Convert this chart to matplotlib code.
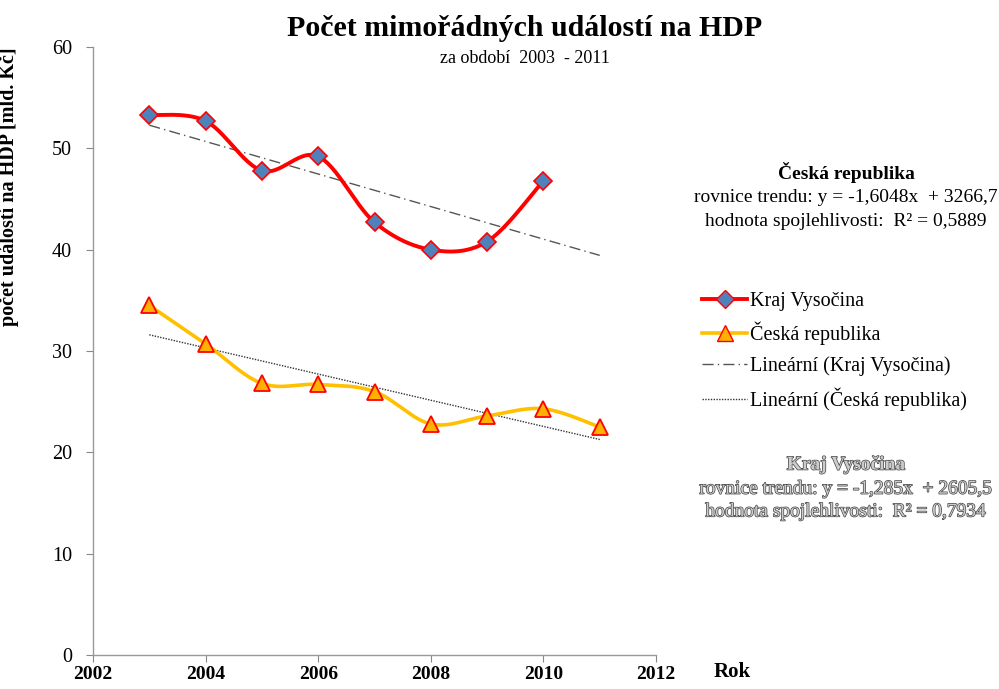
import numpy as np
import matplotlib.pyplot as plt
import matplotlib.patheffects as pe
from matplotlib.lines import Line2D

plt.rcParams['font.family'] = ['Liberation Serif', 'DejaVu Serif']

# data
years_kv = [2003, 2004, 2005, 2006, 2007, 2008, 2009, 2010]
kraj_vysocina = [53.3, 52.7, 47.8, 49.2, 42.7, 40.0, 40.8, 46.8]
years_cr = [2003, 2004, 2005, 2006, 2007, 2008, 2009, 2010, 2011]
ceska_republika = [34.5, 30.7, 26.8, 26.7, 26.0, 22.8, 23.6, 24.3, 22.5]
trend_years = [2003, 2011]


def smooth(x, y, n=30):
    # Excel-style smoothed line (Catmull-Rom via Bezier segments)
    x = np.asarray(x, float)
    y = np.asarray(y, float)
    p = np.column_stack([x, y])
    pts = np.vstack([p[0], p, p[-1]])
    out = []
    t = np.linspace(0, 1, n)[:, None]
    for i in range(1, len(pts) - 2):
        p0, p1, p2, p3 = pts[i - 1], pts[i], pts[i + 1], pts[i + 2]
        c1 = p1 + (p2 - p0) / 6
        c2 = p2 - (p3 - p1) / 6
        seg = ((1 - t) ** 3) * p1 + 3 * ((1 - t) ** 2) * t * c1 + 3 * (1 - t) * t ** 2 * c2 + t ** 3 * p2
        out.append(seg if i == 1 else seg[1:])
    out = np.vstack(out)
    return out[:, 0], out[:, 1]


fig = plt.figure(figsize=(9.99, 6.89), dpi=100)
ax = fig.add_axes([0.0931, 0.0493, 0.5636, 0.8825])

red = '#FF0000'
yellow = '#FFC000'

# trend lines
tx = np.array(trend_years, float)
k1 = np.polyfit(years_kv, kraj_vysocina, 1)
k2 = np.polyfit(years_cr, ceska_republika, 1)
ax.plot(tx, np.polyval(k1, tx), color='#555555', lw=1.0, ls=(0, (8, 3, 1, 3)), zorder=2)
ax.plot(tx, np.polyval(k2, tx), color='#333333', lw=1.0, ls=(0, (1, 1)), zorder=2)

sx, sy = smooth(years_kv, kraj_vysocina)
ax.plot(sx, sy, color=red, lw=2.8, zorder=3, solid_capstyle='round')
ax.plot(years_kv, kraj_vysocina, ls='none', marker='D', ms=9, mfc='#4F81BD', mec=red, mew=1.2, zorder=4)

sx, sy = smooth(years_cr, ceska_republika)
ax.plot(sx, sy, color=yellow, lw=2.6, zorder=3, solid_capstyle='round')
ax.plot(years_cr, ceska_republika, ls='none', marker='^', ms=11, mfc='#FFB000', mec=red, mew=1.3, zorder=4)

ax.set_xlim(2002, 2012)
ax.set_ylim(0, 60)
ax.set_xticks(range(2002, 2013, 2))
ax.set_yticks(range(0, 61, 10))
for s in ['top', 'right']:
    ax.spines[s].set_visible(False)
for s in ['left', 'bottom']:
    ax.spines[s].set_color('#999999')
    ax.spines[s].set_linewidth(1.0)
ax.tick_params(axis='both', direction='out', length=5, color='#888888', labelsize=14.5)
ax.tick_params(axis='y', pad=10)
ax.tick_params(axis='x', pad=3)
for lab in ax.get_xticklabels():
    lab.set_fontweight('bold')
    lab.set_fontsize(14)

ax.set_ylabel('počet událostí na HDP [mld. Kč]', fontsize=14.5, fontweight='bold')
ax.yaxis.set_label_coords(-0.132, 0.77)
fig.text(0.733, 0.025, 'Rok', fontsize=15, fontweight='bold', ha='center', va='center')

fig.text(0.525, 0.958, 'Počet mimořádných událostí na HDP', fontsize=21.5, fontweight='bold',
         ha='center', va='center')
fig.text(0.525, 0.915, 'za období  2003  - 2011', fontsize=13, ha='center', va='center')

fig.text(0.847, 0.75, 'Česká republika', fontsize=14, fontweight='bold', ha='center', va='center')
fig.text(0.847, 0.714, 'rovnice trendu: y = -1,6048x  + 3266,7', fontsize=14, ha='center', va='center')
fig.text(0.847, 0.678, 'hodnota spojlehlivosti:  R² = 0,5889', fontsize=14, ha='center', va='center')

outline = [pe.withStroke(linewidth=1.0, foreground='#444444')]
for txt, yy, w in [('Kraj Vysočina', 0.325, 'bold'),
                   ('rovnice trendu: y = -1,285x  + 2605,5', 0.29, 'normal'),
                   ('hodnota spojlehlivosti:  R² = 0,7934', 0.257, 'normal')]:
    fig.text(0.847, yy, txt, fontsize=14, fontweight=w, ha='center', va='center',
             color='#cccccc', path_effects=outline)

handles = [
    Line2D([], [], color=red, lw=2.8, marker='D', ms=9, mfc='#4F81BD', mec=red),
    Line2D([], [], color=yellow, lw=2.6, marker='^', ms=11, mfc='#FFB000', mec=red),
    Line2D([], [], color='#555555', lw=1.0, ls=(0, (8, 3, 1, 3))),
    Line2D([], [], color='#333333', lw=1.0, ls=(0, (1, 1))),
]
labels = ['Kraj Vysočina', 'Česká republika', 'Lineární (Kraj Vysočina)', 'Lineární (Česká republika)']
fig.legend(handles, labels, loc='upper left', bbox_to_anchor=(0.685, 0.603), frameon=False,
           fontsize=14.5, handlelength=2.2, handletextpad=0.15, labelspacing=0.55)

fig.savefig('out.png', dpi=100)
